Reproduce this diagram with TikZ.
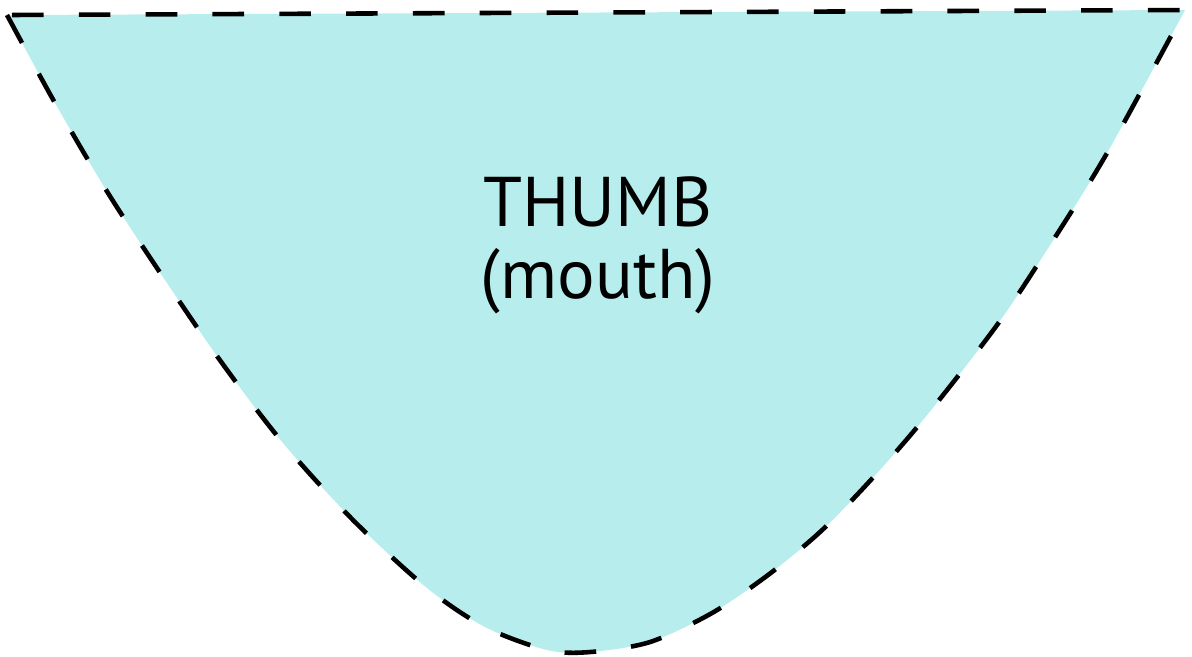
\documentclass[tikz,border=0pt]{standalone}
\usepackage{fontspec}
\setmainfont{PT Sans}
\usetikzlibrary{positioning}
\definecolor{mouthcyan}{RGB}{184,237,237}

\begin{document}
\begin{tikzpicture}[x=0.01cm,y=-0.01cm,
  zone/.style={fill=mouthcyan, draw=black, line width=1.3pt, dash pattern=on 9pt off 10pt}]
\useasboundingbox (0,0) rectangle (1192,656);
% outline of the mouth region
\draw[zone] plot[smooth] coordinates {(7,15) (55,103) (108,193) (163,277) (222,363)
  (283,443) (353,520) (427,588) (485,627) (547,650) (590,652) (650,642) (712,613)
  (768,575) (820,532) (868,483) (923,420) (997,325) (1052,242) (1107,153) (1185,10)} -- cycle;
\node (thumb) at (598,245) [align=center, font=\fontsize{20}{20.5}\selectfont] {THUMB\\(mouth)};
\end{tikzpicture}
\end{document}
